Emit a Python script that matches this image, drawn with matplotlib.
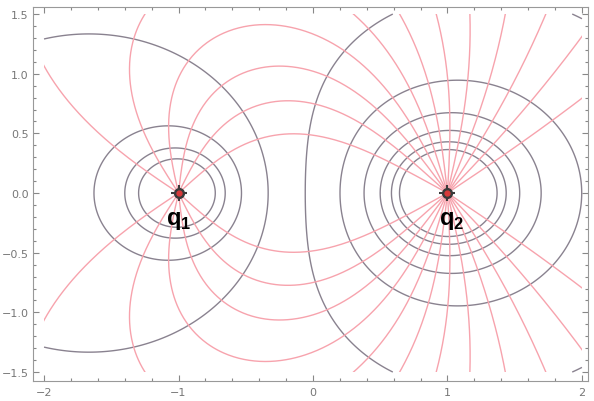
import numpy as np
import matplotlib
matplotlib.use("Agg")
import matplotlib.pyplot as plt
from matplotlib.patches import Rectangle
from matplotlib.ticker import MultipleLocator, FuncFormatter

plt.rcParams["mathtext.fontset"] = "custom"
plt.rcParams["mathtext.bf"] = "Liberation Sans:bold"
plt.rcParams["mathtext.rm"] = "Liberation Sans"
plt.rcParams["contour.negative_linestyle"] = "solid"

# point charges on the x axis
charge_x = [-1.0, 1.0]
charge_q = [1.0, -2.0]
charge_labels = [r"$\mathbf{q}_{\mathbf{1}}$", r"$\mathbf{q}_{\mathbf{2}}$"]
label_pos = [(-1.0, -0.26), (1.03, -0.26)]

# launch angles of the field lines in degrees (upper half, mirrored below)
q1_angles = [45.6, 66.4, 84.3, 101.5, 120.0, 143.1]
q2_angles = [36.9, 49.6, 60.0, 69.5, 78.5, 87.1]

# equipotential levels
pot_levels = [-5.0, -4.17, -3.33, -2.5, -1.67, -0.83, 0.0, 0.83, 1.67, 2.5]

line_color = "#f7a3ad"
cont_color = "#756c7c"


def efield(x, y):
    ex, ey = 0.0, 0.0
    for cx, q in zip(charge_x, charge_q):
        dx = x - cx
        r3 = (dx * dx + y * y) ** 1.5
        ex += q * dx / r3
        ey += q * y / r3
    return ex, ey


def direction(x, y, sign):
    ex, ey = efield(x, y)
    n = np.hypot(ex, ey)
    return sign * ex / n, sign * ey / n


def trace(i, ang, sign, box):
    # start just off charge i and follow the field
    x = charge_x[i] + 0.01 * np.cos(np.radians(ang))
    y = 0.01 * np.sin(np.radians(ang))
    pts = [(charge_x[i], 0.0), (x, y)]
    for step in range(60000):
        h = 0.004 * (1 + np.hypot(x, y))
        k1 = direction(x, y, sign)
        k2 = direction(x + h / 2 * k1[0], y + h / 2 * k1[1], sign)
        k3 = direction(x + h / 2 * k2[0], y + h / 2 * k2[1], sign)
        k4 = direction(x + h * k3[0], y + h * k3[1], sign)
        x += h / 6 * (k1[0] + 2 * k2[0] + 2 * k3[0] + k4[0])
        y += h / 6 * (k1[1] + 2 * k2[1] + 2 * k3[1] + k4[1])
        pts.append((x, y))
        if abs(x) > box or abs(y) > box:
            break
        hit = False
        for j, cx in enumerate(charge_x):
            if j != i and np.hypot(x - cx, y) < 0.015:
                pts.append((cx, 0.0))
                hit = True
        if hit:
            break
    return np.array(pts)


fig = plt.figure(figsize=(5.94, 4.02), dpi=100)
ax = fig.add_axes([33 / 594, 20 / 402, 555 / 594, 374 / 402])

clip = Rectangle((-2, -1.5), 4, 3, transform=ax.transData)

# equipotentials
gx = np.linspace(-2, 2, 801)
gy = np.linspace(-1.5, 1.5, 601)
X, Y = np.meshgrid(gx, gy)
V = np.zeros_like(X)
for cx, q in zip(charge_x, charge_q):
    V += q / np.hypot(X - cx, Y)
ax.contour(X, Y, V, levels=pot_levels, colors=cont_color,
           linewidths=1.0, alpha=0.85, linestyles="solid")

# field lines from q1 (end on q2) and from q2 out to infinity
for s in [1, -1]:
    for a in q1_angles:
        p = trace(0, s * a, 1, 30)
        ln, = ax.plot(p[:, 0], p[:, 1], color=line_color, lw=1.0)
        ln.set_clip_path(clip)
    for a in q2_angles:
        p = trace(1, s * a, -1, 4)
        ln, = ax.plot(p[:, 0], p[:, 1], color=line_color, lw=1.0)
        ln.set_clip_path(clip)

# charge markers and labels
for cx, lab, (lx, ly) in zip(charge_x, charge_labels, label_pos):
    ax.plot(cx, 0, marker="+", ms=11, mew=1.5, color="#3a3a3a")
    ax.plot(cx, 0, marker="o", ms=7, color="#3a3a3a")
    ax.plot(cx, 0, marker="o", ms=3.5, color="#d83a3a")
    ax.text(lx, ly, lab, fontsize=17, ha="center", va="baseline",
            color="black")

ax.set_xlim(-2.082, 2.045)
ax.set_ylim(-1.575, 1.559)

ax.xaxis.set_major_locator(MultipleLocator(1))
ax.xaxis.set_minor_locator(MultipleLocator(0.2))
ax.yaxis.set_major_locator(MultipleLocator(0.5))
ax.yaxis.set_minor_locator(MultipleLocator(0.1))
ax.xaxis.set_major_formatter(FuncFormatter(lambda v, p: f"{v:.0f}".replace("-", "\u2212")))
ax.yaxis.set_major_formatter(FuncFormatter(lambda v, p: f"{v:.1f}".replace("-", "\u2212")))

ax.tick_params(which="both", direction="in", top=True, right=True,
               color="#888888", labelcolor="#777777", labelsize=8, width=0.8)
ax.tick_params(which="major", length=4)
ax.tick_params(which="minor", length=2)
ax.tick_params(axis="y", pad=3)
ax.tick_params(axis="x", pad=4)
for sp in ax.spines.values():
    sp.set_color("#999999")
    sp.set_linewidth(0.8)

fig.savefig("out.png", dpi=100)
